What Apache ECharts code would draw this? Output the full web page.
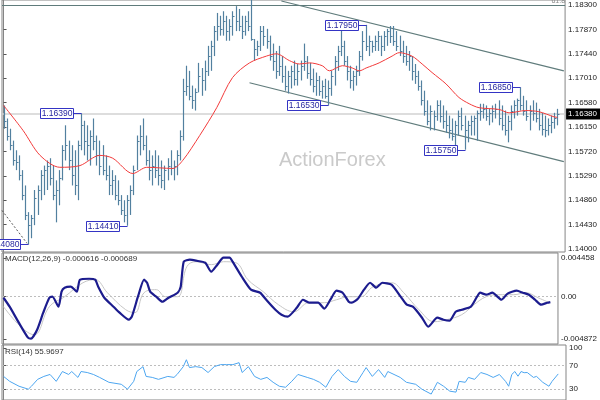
<!DOCTYPE html>
<html><head><meta charset="utf-8">
<script src="https://cdn.jsdelivr.net/npm/echarts@6/dist/echarts.min.js"></script>
<style>html,body{margin:0;padding:0;background:#fff}#c{width:600px;height:400px}</style>
</head><body><div id="c"></div><script>
// ---- DATA ----
const high = [
1.1653,1.1630,1.1612,1.1591,1.1574,1.1565,1.1539,1.1512,1.1465,1.1460,
1.1504,1.1512,1.1539,1.1547,1.1556,1.1560,1.1547,1.1521,1.1539,1.1583,
1.1618,1.1591,1.1583,1.1574,1.1591,1.1639,1.1626,1.1618,1.1609,1.1630,
1.1600,1.1591,1.1583,1.1565,1.1547,1.1539,1.1530,1.1521,1.1495,1.1486,
1.1495,1.1512,1.1547,1.1600,1.1618,1.1630,1.1600,1.1574,1.1565,1.1574,
1.1565,1.1556,1.1547,1.1560,1.1574,1.1556,1.1574,1.1609,1.1700,1.1723,
1.1714,1.1688,1.1683,1.1728,1.1719,1.1732,1.1758,1.1767,1.1793,1.1816,
1.1811,1.1819,1.1811,1.1805,1.1819,1.1828,1.1823,1.1811,1.1811,1.1819,
1.1840,1.1770,1.1767,1.1793,1.1793,1.1788,1.1776,1.1762,1.1749,1.1758,
1.1740,1.1723,1.1714,1.1723,1.1732,1.1726,1.1732,1.1762,1.1740,1.1728,
1.1718,1.1711,1.1705,1.1697,1.1700,1.1697,1.1714,1.1740,1.1758,1.1790,
1.1767,1.1740,1.1723,1.1714,1.1723,1.1749,1.1784,1.1795,1.1776,1.1767,
1.1776,1.1784,1.1776,1.1784,1.1788,1.1793,1.1793,1.1784,1.1776,1.1767,
1.1758,1.1749,1.1740,1.1726,1.1714,1.1697,1.1679,1.1662,1.1653,1.1644,
1.1662,1.1662,1.1653,1.1644,1.1635,1.1630,1.1626,1.1644,1.1649,1.1635,
1.1626,1.1635,1.1635,1.1644,1.1656,1.1656,1.1653,1.1647,1.1653,1.1656,
1.1662,1.1653,1.1644,1.1635,1.1653,1.1662,1.1665,1.1685,1.1670,1.1662,
1.1653,1.1662,1.1658,1.1647,1.1640,1.1635,1.1630,1.1635,1.1640,1.1647];
const low = [
1.1612,1.1591,1.1574,1.1547,1.1539,1.1521,1.1486,1.1451,1.1408,1.1419,
1.1442,1.1460,1.1486,1.1495,1.1504,1.1512,1.1486,1.1447,1.1477,1.1521,
1.1556,1.1539,1.1512,1.1495,1.1486,1.1574,1.1565,1.1556,1.1547,1.1574,
1.1547,1.1530,1.1530,1.1521,1.1495,1.1495,1.1486,1.1477,1.1460,1.1447,
1.1441,1.1460,1.1495,1.1539,1.1565,1.1574,1.1547,1.1521,1.1512,1.1525,
1.1512,1.1507,1.1504,1.1521,1.1530,1.1521,1.1530,1.1556,1.1591,1.1670,
1.1662,1.1647,1.1644,1.1676,1.1670,1.1679,1.1705,1.1714,1.1740,1.1767,
1.1776,1.1776,1.1767,1.1767,1.1776,1.1784,1.1784,1.1770,1.1776,1.1784,
1.1767,1.1732,1.1740,1.1749,1.1758,1.1753,1.1732,1.1714,1.1700,1.1705,
1.1693,1.1679,1.1674,1.1683,1.1688,1.1688,1.1697,1.1714,1.1700,1.1688,
1.1676,1.1670,1.1670,1.1665,1.1665,1.1653,1.1670,1.1688,1.1714,1.1740,
1.1723,1.1697,1.1683,1.1679,1.1688,1.1705,1.1732,1.1749,1.1740,1.1746,
1.1749,1.1749,1.1740,1.1749,1.1758,1.1763,1.1758,1.1749,1.1740,1.1728,
1.1723,1.1714,1.1697,1.1691,1.1679,1.1653,1.1635,1.1618,1.1609,1.1609,
1.1626,1.1623,1.1612,1.1605,1.1595,1.1591,1.1583,1.1600,1.1609,1.1575,
1.1588,1.1600,1.1600,1.1591,1.1626,1.1630,1.1626,1.1618,1.1623,1.1630,
1.1618,1.1609,1.1600,1.1588,1.1609,1.1630,1.1635,1.1644,1.1635,1.1626,
1.1609,1.1626,1.1623,1.1609,1.1600,1.1597,1.1600,1.1604,1.1612,1.1618];
const close = [
1.1626,1.1600,1.1583,1.1556,1.1553,1.1530,1.1495,1.1460,1.1442,1.1454,
1.1490,1.1504,1.1530,1.1539,1.1547,1.1525,1.1495,1.1504,1.1525,1.1574,
1.1583,1.1556,1.1530,1.1512,1.1583,1.1618,1.1591,1.1583,1.1600,1.1591,
1.1565,1.1547,1.1539,1.1530,1.1512,1.1521,1.1495,1.1486,1.1468,1.1460,
1.1486,1.1504,1.1539,1.1591,1.1600,1.1583,1.1556,1.1539,1.1547,1.1539,
1.1530,1.1521,1.1539,1.1547,1.1542,1.1547,1.1565,1.1600,1.1679,1.1688,
1.1670,1.1662,1.1676,1.1705,1.1697,1.1714,1.1740,1.1758,1.1784,1.1793,
1.1788,1.1802,1.1784,1.1793,1.1811,1.1802,1.1793,1.1784,1.1802,1.1793,
1.1770,1.1753,1.1758,1.1784,1.1776,1.1767,1.1740,1.1732,1.1714,1.1723,
1.1705,1.1688,1.1705,1.1714,1.1700,1.1714,1.1723,1.1732,1.1711,1.1700,
1.1688,1.1697,1.1679,1.1688,1.1670,1.1683,1.1705,1.1732,1.1749,1.1758,
1.1732,1.1714,1.1697,1.1705,1.1714,1.1740,1.1767,1.1758,1.1767,1.1758,
1.1767,1.1776,1.1758,1.1776,1.1784,1.1776,1.1767,1.1758,1.1749,1.1740,
1.1732,1.1740,1.1714,1.1705,1.1688,1.1662,1.1644,1.1626,1.1644,1.1635,
1.1653,1.1635,1.1626,1.1618,1.1609,1.1600,1.1618,1.1635,1.1618,1.1609,
1.1618,1.1626,1.1630,1.1640,1.1644,1.1647,1.1635,1.1640,1.1644,1.1647,
1.1630,1.1618,1.1609,1.1626,1.1644,1.1653,1.1662,1.1653,1.1644,1.1635,
1.1644,1.1640,1.1630,1.1618,1.1612,1.1609,1.1618,1.1623,1.1630,1.1638];
// moving average [barIndex, value]
const ma = [[0,1.1653],[6.3,1.1609],[11.8,1.1565],[18.2,1.1544],[24.7,1.1547],[31.1,1.1565],[35.3,1.1560],[41.8,1.1533],[46.3,1.1544],[54.7,1.1542],[57.9,1.1556],[63.4,1.1600],[68.9,1.1649],[74,1.1702],[79.5,1.1728],[85,1.1740],[88.2,1.1744],[92.4,1.1732],[95.6,1.1726],[98.9,1.1728],[103,1.1723],[105.3,1.1714],[109.5,1.1723],[112.7,1.1719],[115,1.1714],[117.2,1.1719],[121.4,1.1728],[125.6,1.1740],[127.9,1.1746],[132,1.1740],[135.3,1.1726],[138.5,1.1711],[143,1.1691],[147.2,1.1667],[150.5,1.1656],[153.7,1.1649],[160.1,1.1646],[163.4,1.1640],[168.8,1.1644],[173,1.1642],[177.9,1.1633],[179,1.1632]];
const macd = [[0,-0.00012],[2,-0.00115],[5,-0.00299],[8,-0.00472],[9,-0.00484],[11,-0.0038],[13,-0.00184],[15,-0.00012],[16,0],[18,-0.00115],[19,0.00058],[20,0.00104],[22,0.00115],[24,0.00058],[25,0.00196],[28,0.00207],[30,0.00196],[31,0.00115],[33,-0.00012],[36,-0.00115],[38,-0.00184],[41,-0.00265],[42,-0.0023],[44,0],[46,0.00196],[47,0.00161],[48,0.00058],[50,0],[52,-0.00058],[54,-0.00012],[57,0.00046],[58,0.00115],[59,0.00403],[61,0.00426],[63,0.00415],[66,0.00392],[68,0.00288],[70,0.00369],[72,0.00449],[74,0.00449],[75,0.00403],[78,0.0023],[81,0.00081],[84,0.00046],[86,-0.00035],[89,-0.0015],[91,-0.00207],[93,-0.0023],[96,-0.00127],[98,-0.00035],[100,-0.00069],[103,-0.00069],[105,-0.00138],[107,-0.00035],[109,0.00069],[111,0.00046],[113,-0.00058],[114,-0.00069],[116,-0.00023],[118,0.00081],[120,0.00161],[122,0.00104],[124,0.00161],[127,0.00138],[130,0],[132,-0.00092],[134,-0.00115],[137,-0.00242],[139,-0.00346],[142,-0.00242],[144,-0.00265],[146,-0.00276],[148,-0.00173],[150,-0.0015],[153,-0.00115],[155,0],[156,0.00046],[158,0.00023],[160,0.00046],[163,-0.00035],[165,0.00035],[168,0.00069],[170,0.00046],[172,0.00023],[174,-0.00035],[176,-0.00092],[178,-0.00069],[179,-0.000616]];
const signal = [[0,-0.00115],[10,-0.00438],[15,-0.00115],[20,0],[26,0.00161],[30,0.00196],[34,0.00046],[40,-0.0015],[43,-0.00184],[46,0.00046],[50,0.00081],[53,0],[57,0],[60,0.00346],[63,0.00403],[68,0.00369],[72,0.00403],[76,0.00392],[80,0.00196],[85,0.00058],[90,-0.00092],[95,-0.00173],[100,-0.00069],[105,-0.00069],[109,-0.00035],[113,0],[117,0],[121,0.00115],[127,0.00161],[131,0.00046],[136,-0.0015],[141,-0.00288],[145,-0.00265],[150,-0.00207],[154,-0.00092],[158,0],[162,0.00023],[167,0.00023],[171,0.00046],[175,-0.00012],[178,-0.00058],[179,-0.000689]];
const rsi = [[0,51.7],[2,43.3],[5,35],[8,30],[9,35],[11,46.7],[13,51.7],[15,55],[17,43.3],[19,60],[21,55],[22,60],[24,50],[25,60],[27,58.3],[29,55],[31,50],[34,41.7],[38,38.3],[40,30],[42,43.3],[43,60],[45,68.3],[46,51.7],[48,50],[50,46.7],[53,51.7],[55,50],[56,55],[58,68.3],[59,80],[60,66.7],[62,68.3],[64,66.7],[66,58.3],[68,68.3],[70,71.7],[72,71.7],[74,71.7],[76,75],[77,58.3],[79,68.3],[81,51.7],[83,46.7],[85,50],[87,41.7],[89,35],[91,33.3],[93,43.3],[95,55],[98,50],[100,46.7],[102,41.7],[104,33.3],[106,51.7],[108,63.3],[110,51.7],[112,43.3],[114,41.7],[116,58.3],[117,66.7],[119,51.7],[121,63.3],[123,50],[124,60],[126,55],[128,50],[130,41.7],[133,38.3],[135,30],[138,21.7],[140,41.7],[142,35],[144,26.7],[146,25],[147,43.3],[149,41.7],[150,50],[152,46.7],[154,58.3],[156,55],[158,50],[160,55],[162,43.3],[163,35],[164,55],[165,60],[166,52],[167,60],[168,58],[169,58.3],[171,50],[172,51.7],[174,41.7],[176,35],[177,43.3],[179,55.97]];
const pivotIdx = [8,25,40,105,117,149,167];
const pivotPrice = [1.1408,1.1639,1.1441,1.1653,1.1795,1.1575,1.1685];
const channelUpper = [[89.8,1.1837],[181.1,1.1714]];
const channelLower = [[79.5,1.1693],[181.1,1.1554]];
const dottedLine = [[-0.5,1.1468],[7.6,1.1410]];
const fibLevel = 1.1830, fibLabel = '61.8';
const lastPrice = 1.1638;
const priceTicks = [1.1400,1.1443,1.1486,1.1529,1.1572,1.1615,1.1658,1.1701,1.1744,1.1787,1.1830];
const macdTicks = [0.004458,0,-0.004872];
const rsiTicks = [100,70,30];
const macdCaption = 'MACD(12,26,9) -0.000616 -0.000689';
const rsiCaption = 'RSI(14) 55.9697';
const watermark = 'ActionForex';

// ---- CHART ----
const FF = '"Liberation Sans", Arial, sans-serif';
const X0 = -0.5, X1 = 181.5;
const chart = echarts.init(document.getElementById('c'));
const barData = high.map((h, i) => [i, h, low[i], close[i]]);
const BAR = '#52809f';
const grids = [
  {left:2, right:34, top:-1, height:253},
  {left:2, right:34, top:253, height:91},
  {left:2, right:34, top:345, height:56}
].map(g => Object.assign(g, {show:true, borderColor:'#858585', borderWidth:1, backgroundColor:'transparent'}));
function yAx(gi, min, max, ticks, fmt) {
  return {type:'value', gridIndex:gi, position:'right', min, max,
    axisLine:{show:true, lineStyle:{color:'#858585'}},
    axisTick:{show:true, customValues:ticks, length:3, lineStyle:{color:'#555'}},
    axisLabel:{customValues:ticks, formatter:fmt, fontSize:8, color:'#222', margin:3, fontFamily:FF},
    splitLine:{show:false}};
}
function hSeg(v, lineStyle, label) {
  return [{coord:[X0, v]}, {coord:[X1, v], lineStyle, label: label || {show:false}}];
}
const dotted = {color:'#bdbdbd', type:[2,2], width:1};
const option = {
  animation:false,
  grid: grids,
  xAxis: [0,1,2].map(g => ({type:'value', gridIndex:g, min:X0, max:X1, show:false})),
  yAxis: [
    yAx(0, 1.139473, 1.18388, priceTicks, v => v.toFixed(5)),
    yAx(1, -0.005448, 0.005034, macdTicks, v => v === 0 ? '0.00' : v.toFixed(6)),
    yAx(2, 11.67, 105, rsiTicks, v => String(v))
  ],
  graphic: [
    {type:'text', left:279, top:150, z:-10, style:{text:watermark, fontSize:20, fill:'#cacaca', fontFamily:FF}},
    {type:'text', left:5, top:255, style:{text:macdCaption, fontSize:8, fill:'#333', fontFamily:FF}},
    {type:'text', left:5, top:348, style:{text:rsiCaption, fontSize:8, fill:'#333', fontFamily:FF}}
  ],
  series: [
    {type:'line', xAxisIndex:0, yAxisIndex:0, data:[], z:1, silent:true,
      markLine:{silent:true, z:1, symbol:['none','none'], animation:false,
        data:[
          hSeg(lastPrice, {color:'#d2d2d2', width:1.5, type:'solid'},
            {show:true, position:'end', formatter:lastPrice.toFixed(5), backgroundColor:'#000', color:'#fff', fontSize:8, padding:[2,3,1,2], distance:1, fontFamily:FF}),
          hSeg(fibLevel, {color:'#5f7b7b', width:1.2, type:'solid'},
            {show:true, position:'insideEndTop', formatter:fibLabel, color:'#888', fontSize:7, distance:0, fontFamily:FF}),
          [{coord:channelUpper[0]}, {coord:channelUpper[1], lineStyle:{color:'#607c7c', width:1.2, type:'solid'}, label:{show:false}}],
          [{coord:channelLower[0]}, {coord:channelLower[1], lineStyle:{color:'#607c7c', width:1.2, type:'solid'}, label:{show:false}}],
          [{coord:dottedLine[0]}, {coord:dottedLine[1], lineStyle:{color:'#555', width:1, type:[2,2]}, label:{show:false}}]
        ]}},
    {type:'custom', xAxisIndex:0, yAxisIndex:0, z:2, data:barData, encode:{x:0, y:[1,2,3]}, silent:true,
      renderItem:(params, api) => {
        const x = api.value(0);
        const ph = api.coord([x, api.value(1)]), pl = api.coord([x, api.value(2)]), pc = api.coord([x, api.value(3)]);
        const px = Math.round(ph[0]) + 0.5, cy = Math.round(pc[1]) + 0.5;
        return {type:'group', children:[
          {type:'line', shape:{x1:px, y1:ph[1], x2:px, y2:pl[1]}, style:{stroke:BAR, lineWidth:1.2}},
          {type:'line', shape:{x1:px, y1:cy, x2:px+2, y2:cy}, style:{stroke:BAR, lineWidth:1}}
        ]};
      }},
    {type:'line', xAxisIndex:0, yAxisIndex:0, z:3, data:ma, symbol:'none', smooth:0.3, lineStyle:{color:'#f23a3a', width:1}},
    {type:'custom', xAxisIndex:0, yAxisIndex:0, z:6, silent:true,
      data: pivotIdx.map((i, k) => [i, pivotPrice[k]]), encode:{x:0, y:1},
      renderItem:(params, api) => {
        const p = api.coord([api.value(0), api.value(1)]);
        const x = Math.round(p[0]) + 0.5, y = Math.round(p[1]) + 0.5;
        const txt = pivotPrice[params.dataIndex].toFixed(5);
        return {type:'group', children:[
          {type:'line', shape:{x1:x-8, y1:y, x2:x, y2:y}, style:{stroke:'#3434c4', lineWidth:1}},
          {type:'rect', shape:{x:x-41, y:y-5, width:33, height:10}, style:{fill:'#fff', stroke:'#3434c4', lineWidth:1}},
          {type:'text', style:{text:txt, x:x-24.5, y:y+0.5, align:'center', verticalAlign:'middle', fontSize:8.5, fill:'#2828a0', fontFamily:FF}}
        ]};
      }},
    {type:'line', xAxisIndex:1, yAxisIndex:1, data:signal, symbol:'none', smooth:0.4, z:2, lineStyle:{color:'#c6c6c6', width:1},
      markLine:{silent:true, z:1, symbol:['none','none'], data:[hSeg(0, dotted)]}},
    {type:'line', xAxisIndex:1, yAxisIndex:1, data:macd, symbol:'none', smooth:0.2, z:3, lineStyle:{color:'#1c1c8e', width:2.2}},
    {type:'line', xAxisIndex:2, yAxisIndex:2, data:rsi, symbol:'none', z:3, lineStyle:{color:'#4da6f0', width:1},
      markLine:{silent:true, z:1, symbol:['none','none'], data:[hSeg(70, dotted), hSeg(30, dotted)]}}
  ]
};
chart.setOption(option);
</script></body></html>
